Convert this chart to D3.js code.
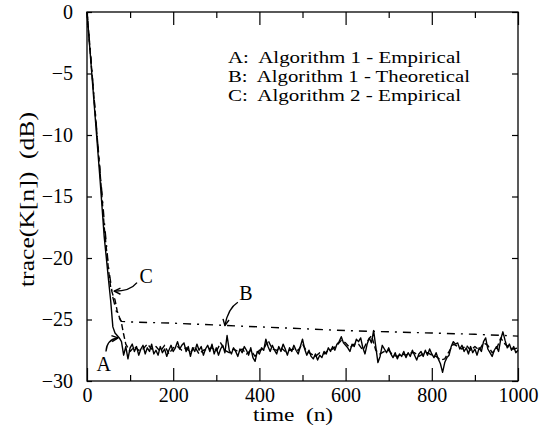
<html>
<head>
<script src="https://d3js.org/d3.v7.min.js"></script>
<style>
  body { margin: 0; background: #fff; }
  svg { font-family: "Liberation Serif", serif; }
  .frame { fill: none; stroke: #000; stroke-width: 1.3; }
  .curve { fill: none; stroke: #000; stroke-width: 1.4; stroke-linejoin: round; }
  .tick-label { font-size: 20px; fill: #000; }
</style>
</head>
<body>
<div id="chart"></div>
<script>
// axis ticks
var xTicks = [0, 200, 400, 600, 800, 1000];
var xMinorTicks = [100, 300, 500, 700, 900];
var yTicks = [0, -5, -10, -15, -20, -25, -30];

// A: Algorithm 1 - Empirical (transient part, then steady state every 5 samples from n=80)
var aTransient = [[0, 0], [10, -4.5], [20, -9.0], [30, -13.5], [40, -18.3], [50, -21.8], [55, -23.5], [60, -25.6], [65, -26.1], [70, -26.3], [75, -26.5]];
var aSteadyStart = 80;
var aSteadyStep = 5;
var aSteady = [
  -26.8, -27.9, -27.2, -28.2, -27.3, -27.0, -27.6, -27.2, -27.9, -27.4,
  -27.1, -27.8, -27.3, -27.6, -27.0, -27.8, -27.5, -27.9, -27.2, -27.7,
  -27.4, -28.0, -27.5, -27.1, -27.6, -27.3, -26.8, -27.4, -27.1, -26.9,
  -27.6, -27.2, -28.0, -27.3, -27.6, -27.0, -27.5, -27.2, -27.9, -27.4,
  -27.1, -27.6, -27.0, -27.8, -27.3, -27.9, -27.4, -27.1, -27.7, -26.3,
  -27.5, -27.8, -27.3, -27.6, -28.0, -27.4, -27.7, -27.2, -27.5, -27.9,
  -27.3, -28.1, -28.4, -27.6, -27.8, -27.3, -27.5, -26.6, -27.2, -27.6,
  -27.1, -27.5, -27.8, -27.2, -27.6, -27.0, -27.4, -27.9, -27.3, -27.6,
  -27.1, -27.5, -27.8, -27.2, -26.6, -27.4, -27.9, -27.5, -28.0, -28.2,
  -27.8, -28.3, -27.9, -28.1, -27.6, -27.8, -27.3, -27.6, -27.2, -27.5,
  -27.0, -26.8, -26.4, -26.9, -27.1, -27.3, -27.6, -27.0, -27.2, -26.6,
  -26.8, -26.5, -27.3, -27.8, -27.0, -26.5, -26.9, -25.9, -27.2, -28.5,
  -28.0, -27.1, -27.4, -27.7, -27.3, -27.8, -28.1, -27.7, -28.2, -27.8,
  -28.0, -27.6, -28.1, -27.7, -28.0, -27.5, -27.9, -28.3, -27.8, -27.6,
  -28.0, -27.5, -27.9, -27.4, -27.8, -28.1, -27.7, -28.2, -28.6, -29.3,
  -28.5, -28.1, -27.9, -27.2, -26.8, -27.0, -26.9, -27.4, -27.1, -27.6,
  -27.3, -27.8, -27.2, -27.7, -27.4, -27.9, -27.3, -27.6, -26.8, -26.5,
  -27.4, -27.7, -28.0, -27.5, -27.2, -27.6, -26.6, -26.0, -26.7, -27.3,
  -27.0, -27.5, -27.2, -27.7, -27.5
];

// B: Algorithm 1 - Theoretical
var bTime  = [0, 10, 20, 30, 40, 50, 60, 70, 80, 100, 200, 300, 400, 500, 600, 700, 800, 900, 1000];
var bTrace = [0, -4.2, -8.5, -12.8, -17.0, -20.8, -23.2, -24.6, -25.15, -25.2, -25.3, -25.45, -25.6, -25.75, -25.9, -26.0, -26.1, -26.2, -26.35];

// C: Algorithm 2 - Empirical (transient part, then steady state every 10 samples from n=100)
var cTransient = [[0, 0], [10, -4.3], [20, -8.6], [30, -12.9], [40, -17.5], [50, -21.0], [55, -22.4], [60, -23.0], [65, -23.4], [70, -24.3], [75, -24.8], [80, -25.3], [85, -26.2], [90, -27.0]];
var cSteadyStart = 100;
var cSteadyStep = 10;
var cSteady = [
  -27.6, -27.2, -27.5, -27.4, -27.0, -27.4, -27.2, -27.6, -27.1, -27.8,
  -27.3, -27.2, -27.5, -27.3, -27.7, -27.2, -27.8, -27.5, -27.4, -27.3,
  -27.6, -26.9, -27.5, -27.7, -27.4, -27.6, -27.4, -27.8, -27.5, -28.0,
  -27.5, -27.4, -26.7, -27.4, -27.5, -27.3, -27.6, -27.5, -27.4, -27.5,
  -27.0, -27.6, -27.8, -28.0, -27.7, -27.8, -27.5, -27.4, -27.1, -26.7,
  -26.9, -27.3, -27.0, -27.0, -27.5, -26.8, -26.3, -27.5, -27.8, -27.6,
  -27.5, -27.9, -28.0, -27.8, -27.9, -27.7, -27.7, -28.0, -27.8, -27.7,
  -27.9, -28.0, -28.3, -28.2, -27.6, -27.0, -27.2, -27.4, -27.1, -27.5,
  -27.2, -27.5, -26.9, -27.1, -27.7, -27.4, -26.5, -27.0, -27.3, -27.4,
  -27.3
];

var legendLines = ["A:  Algorithm 1 - Empirical", "B:  Algorithm 1 - Theoretical", "C:  Algorithm 2 - Empirical"];
var legendWidths = [233, 242, 233];

var width = 541, height = 426;
var margin = {left: 87, right: 23, top: 12, bottom: 45};

var x = d3.scaleLinear().domain([0, 1000]).range([margin.left, width - margin.right]);
var y = d3.scaleLinear().domain([-30, 0]).range([height - margin.bottom, margin.top]);

var svg = d3.select("#chart").append("svg")
  .attr("width", width)
  .attr("height", height);

/* build point lists */
var aData = aTransient.map(d => ({n: d[0], v: d[1]}))
  .concat(aSteady.map((v, i) => ({n: aSteadyStart + i * aSteadyStep, v: v})));
var bData = bTime.map((n, i) => ({n: n, v: bTrace[i]}));
var cData = cTransient.map(d => ({n: d[0], v: d[1]}))
  .concat(cSteady.map((v, i) => ({n: cSteadyStart + i * cSteadyStep, v: v})));

var line = d3.line().x(d => x(d.n)).y(d => y(d.v));

svg.append("path").datum(bData).attr("class", "curve")
  .attr("stroke-dasharray", "8,6,2,6").attr("d", line);
svg.append("path").datum(cData).attr("class", "curve")
  .attr("stroke-dasharray", "6,3").attr("d", line);
svg.append("path").datum(aData).attr("class", "curve").attr("d", line);

/* axes: ticks inside on all four sides */
var axBottom = svg.append("g").attr("transform", `translate(0,${y(-30)})`)
  .call(d3.axisBottom(x).tickValues(xTicks).tickSizeInner(-13).tickSizeOuter(0).tickFormat(d3.format("d")));
var axBottomMinor = svg.append("g").attr("transform", `translate(0,${y(-30)})`)
  .call(d3.axisBottom(x).tickValues(xMinorTicks).tickSizeInner(-6).tickSizeOuter(0).tickFormat(""));
var axTop = svg.append("g").attr("transform", `translate(0,${y(0)})`)
  .call(d3.axisTop(x).tickValues(xTicks).tickSizeInner(-13).tickSizeOuter(0).tickFormat(""));
var axTopMinor = svg.append("g").attr("transform", `translate(0,${y(0)})`)
  .call(d3.axisTop(x).tickValues(xMinorTicks).tickSizeInner(-6).tickSizeOuter(0).tickFormat(""));
var axLeft = svg.append("g").attr("transform", `translate(${x(0)},0)`)
  .call(d3.axisLeft(y).tickValues(yTicks).tickSizeInner(-5).tickSizeOuter(0)
    .tickFormat(d => d === 0 ? "0" : "\u2212" + Math.abs(d)));
var axRight = svg.append("g").attr("transform", `translate(${x(1000)},0)`)
  .call(d3.axisRight(y).tickValues(yTicks).tickSizeInner(-6).tickSizeOuter(0).tickFormat(""));

[axBottom, axBottomMinor, axTop, axTopMinor, axLeft, axRight].forEach(function(g) {
  g.attr("font-family", null).attr("font-size", null);
  g.select(".domain").remove();
  g.selectAll(".tick line").attr("stroke", "#000").attr("stroke-width", 1.2);
  g.selectAll(".tick text").attr("class", "tick-label");
});
axBottom.selectAll(".tick text").attr("y", 7);
axLeft.selectAll(".tick text").attr("x", -14);

svg.append("rect").attr("class", "frame")
  .attr("x", x(0)).attr("y", y(0))
  .attr("width", x(1000) - x(0)).attr("height", y(-30) - y(0));

/* axis titles */
svg.append("text")
  .attr("x", 253).attr("y", 421)
  .style("font-size", "19px")
  .attr("xml:space", "preserve")
  .attr("textLength", 80).attr("lengthAdjust", "spacingAndGlyphs")
  .text("time  (n)");

svg.append("text")
  .attr("transform", `translate(34,287) rotate(-90)`)
  .style("font-size", "20px")
  .attr("xml:space", "preserve")
  .attr("textLength", 175).attr("lengthAdjust", "spacingAndGlyphs")
  .text("trace(K[n])  (dB)");

/* legend */
svg.selectAll(".legend").data(legendLines).enter()
  .append("text")
  .attr("class", "legend")
  .attr("x", 228)
  .attr("y", (d, i) => 63 + i * 19)
  .style("font-size", "16.5px")
  .attr("xml:space", "preserve")
  .attr("textLength", (d, i) => legendWidths[i]).attr("lengthAdjust", "spacingAndGlyphs")
  .text(d => d);

/* annotation arrows, positioned in data units */
var arrows = [
  {label: "C", at: [137, -21.5], from: [116, -22.0], ctrl: [100, -22.7], to: [63, -22.7]},
  {label: "B", at: [369, -22.85], from: [350, -23.6], ctrl: [327, -24.1], to: [320, -25.5]},
  {label: "A", at: [39, -28.6], from: [44, -27.6], ctrl: [46, -26.6], to: [72, -26.5]}
];

arrows.forEach(function(a) {
  var p = d3.path();
  p.moveTo(x(a.from[0]), y(a.from[1]));
  p.quadraticCurveTo(x(a.ctrl[0]), y(a.ctrl[1]), x(a.to[0]), y(a.to[1]));
  svg.append("path").attr("class", "curve").attr("stroke-width", 1.2).attr("d", p.toString());

  // open arrowhead along the end tangent
  var ang = Math.atan2(y(a.to[1]) - y(a.ctrl[1]), x(a.to[0]) - x(a.ctrl[0]));
  var len = 7, spread = 0.45;
  var tx = x(a.to[0]), ty = y(a.to[1]);
  var h = d3.path();
  h.moveTo(tx - len * Math.cos(ang - spread), ty - len * Math.sin(ang - spread));
  h.lineTo(tx, ty);
  h.lineTo(tx - len * Math.cos(ang + spread), ty - len * Math.sin(ang + spread));
  svg.append("path").attr("class", "curve").attr("stroke-width", 1.2).attr("d", h.toString());

  svg.append("text")
    .attr("x", x(a.at[0])).attr("y", y(a.at[1]))
    .attr("text-anchor", "middle").attr("dominant-baseline", "central")
    .style("font-size", "20px")
    .text(a.label);
});
</script>
</body>
</html>
